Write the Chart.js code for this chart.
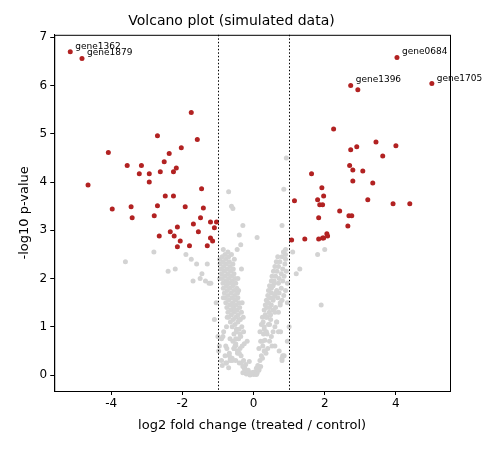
<!DOCTYPE html>
<html><head><script src="https://cdn.jsdelivr.net/npm/chart.js@4"></script>
<style>body{margin:0;background:#fff}#w{width:500px;height:450px}</style></head>
<body><div id="w"><canvas id="c"></canvas></div>
<script>
const sigX=[-5.15,-4.82,-1.75,-2.70,-1.58,-4.08,-2.03,-2.37,-2.51,-3.55,-3.15,-2.62,-3.21,-2.93,-2.25,-2.17,-2.93,-4.65,-1.46,-2.48,-2.25,-3.97,-3.44,-2.70,-1.92,-1.41,-3.41,-2.79,-1.49,-1.21,-1.04,-2.14,-1.69,-1.10,-2.65,-2.34,-2.23,-1.55,-1.21,-1.15,-2.14,-1.80,-1.30,-2.06,
4.03,2.73,2.93,5.01,2.25,3.44,2.73,2.90,4.00,3.63,1.63,2.70,2.79,3.07,2.79,3.35,1.92,1.15,1.80,1.97,1.86,1.94,3.21,3.92,4.39,2.42,1.83,2.68,2.76,2.65,1.07,1.44,1.83,1.94,2.06,2.08,1.97];
const sigY=[6.70,6.56,5.44,4.96,4.88,4.61,4.71,4.59,4.42,4.34,4.34,4.21,4.17,4.17,4.21,4.29,4.00,3.94,3.86,3.71,3.71,3.44,3.49,3.51,3.49,3.46,3.26,3.30,3.26,3.17,3.17,3.07,3.13,3.05,2.88,2.97,2.88,2.97,2.84,2.78,2.66,2.68,2.68,2.78,
6.58,6.00,5.91,6.04,5.10,4.83,4.67,4.73,4.75,4.54,4.17,4.34,4.25,4.23,4.02,3.98,3.88,3.61,3.63,3.71,3.53,3.53,3.63,3.55,3.55,3.40,3.26,3.30,3.30,3.09,2.80,2.82,2.82,2.84,2.93,2.88,2.84];
const nsX=[-3.6,-2.8,-2.4,-2.2,-1.9,-1.6,-1.5,-1.3,-1.1,-0.7,-0.62,-0.58,-0.3,-0.4,0.1,0.92,0.85,0.8,0.9,1.1,1.3,1.2,1.8,2.0,1.9,0.95,1.0,0.8,0.6,-0.9,-1.0,-1.05,-1.2,-1.35,-1.45,-1.7,-1.75,-1.25,-0.95,-0.85,
-0.3,-0.2,-0.1,0.0,0.05,0.1,0.15,0.2,-0.25,-0.15,-0.05,0.02,0.08,0.12,0.18,0.25,-0.35,-0.28,-0.22,-0.12,0.22,0.3,0.35,-0.4,
-0.45,-0.38,-0.32,-0.26,-0.18,0.26,0.32,0.4,0.45,-0.5,-0.42,-0.36,0.15,0.28,0.36,0.5,0.55,-0.55,-0.48,-0.41,-0.33,0.2,0.3,0.42,0.6,
-0.6,-0.52,-0.44,-0.37,-0.29,0.18,0.27,0.38,0.48,0.65,-0.65,-0.57,-0.5,-0.43,-0.34,0.22,0.33,0.44,0.55,0.7,-0.7,-0.62,-0.54,-0.46,-0.39,0.25,0.37,0.5,0.62,0.75,
-0.72,-0.64,-0.56,-0.49,-0.41,0.3,0.42,0.55,0.68,0.8,-0.75,-0.67,-0.59,-0.51,-0.44,0.33,0.46,0.6,0.72,0.85,-0.78,-0.7,-0.61,-0.53,-0.45,0.36,0.5,0.65,0.78,0.9,
-0.8,-0.72,-0.63,-0.55,-0.47,0.4,0.55,0.7,0.82,0.95,-0.82,-0.74,-0.66,-0.58,-0.5,0.42,0.58,0.72,0.86,-0.85,-0.76,-0.68,-0.6,-0.52,0.45,0.62,0.78,0.92,
-0.86,-0.78,-0.7,-0.62,-0.55,0.5,0.66,0.82,-0.88,-0.8,-0.72,-0.64,-0.57,0.52,0.7,0.88,-0.9,-0.82,-0.74,-0.66,-0.58,0.56,0.74,0.9,-0.92,-0.84,-0.76,-0.68,0.6,0.8,
-0.94,-0.86,-0.78,-0.7,0.64,0.84,-0.95,-0.88,-0.8,-0.72,0.68,0.9,-0.96,-0.84,-0.74,0.72,0.95,-0.98,-0.86,-0.76,0.76,-0.9,-0.78,-0.68,0.8,-0.88,-0.75,-0.66,0.82,
-0.85,-0.72,-0.62,-0.8,-0.68,-0.58,0.86,-0.76,-0.65,-0.55,-0.7,-0.6,-0.78,-0.52,-0.66,-0.5,
-0.6,-0.5,-0.4,-0.3,-0.45,-0.35,-0.55,-0.25,0.1,0.15,0.05,-0.2,-0.1,0.0,0.08,-0.15,-0.05,0.12,-0.48,-0.38,-0.42,-0.52,-0.32,-0.58,-0.28,-0.62,-0.44,-0.34,-0.54,-0.46,-0.36,-0.4,-0.5,
0.35,0.45,0.55,0.3,0.5,0.6,0.4,0.65,0.25,0.7,0.45,0.58,0.38,0.52,0.75,0.32,0.48,0.62];
const nsY=[2.35,2.55,2.15,2.2,2.5,2.3,2.0,2.3,1.15,3.8,3.5,3.45,3.1,2.9,2.85,4.5,3.85,3.1,2.5,2.55,2.2,2.1,2.5,2.6,1.45,1.5,1.0,0.35,0.6,0.75,0.8,1.5,1.9,1.95,2.1,1.95,2.4,1.9,2.0,2.6,
0.05,0.02,0.0,0.01,0.03,0.08,0.12,0.18,0.15,0.1,0.05,0.06,0.14,0.2,0.3,0.35,0.25,0.3,0.22,0.28,0.4,0.5,0.45,0.45,
0.5,0.55,0.6,0.65,0.7,0.6,0.72,0.55,0.7,0.65,0.75,0.8,0.55,0.85,0.9,0.8,0.9,0.85,0.9,0.95,1.0,0.7,1.0,1.05,1.0,
1.0,1.05,1.1,1.15,1.2,0.9,1.1,1.2,1.15,1.1,1.1,1.15,1.2,1.25,1.3,1.05,1.25,1.3,1.35,1.3,1.2,1.25,1.3,1.35,1.4,1.2,1.4,1.45,1.4,1.5,
1.3,1.35,1.4,1.45,1.5,1.35,1.5,1.55,1.6,1.55,1.4,1.45,1.5,1.55,1.6,1.45,1.6,1.65,1.7,1.65,1.5,1.55,1.6,1.65,1.7,1.55,1.7,1.75,1.8,1.75,
1.6,1.65,1.7,1.75,1.8,1.65,1.85,1.9,1.95,1.9,1.7,1.75,1.8,1.85,1.9,1.75,1.95,2.0,2.05,1.8,1.85,1.9,1.95,2.0,1.85,2.05,2.1,2.15,
1.9,1.95,2.0,2.05,2.1,1.95,2.15,2.2,2.0,2.05,2.1,2.15,2.2,2.05,2.25,2.3,2.1,2.15,2.2,2.25,2.3,2.15,2.35,2.4,2.2,2.25,2.3,2.35,2.25,2.45,
2.3,2.35,2.4,2.45,2.35,2.55,2.4,2.45,2.5,2.55,2.45,2.6,0.6,0.9,1.2,0.5,0.7,0.5,0.8,1.0,0.9,0.3,0.6,0.4,0.3,0.2,0.55,0.75,0.4,
1.6,1.9,2.5,0.4,0.45,0.7,0.4,0.25,0.35,0.55,0.15,0.3,0.25,0.6,0.3,0.75,
0.35,0.3,0.25,0.18,0.45,0.4,0.55,0.12,0.04,0.1,0.02,0.1,0.03,0.06,0.01,0.07,0.04,0.15,0.95,0.85,1.75,1.35,1.5,1.9,0.9,1.45,2.0,2.2,2.4,2.6,2.7,1.15,0.62,
1.2,1.4,1.6,0.95,1.8,1.3,1.5,1.1,0.7,0.9,1.05,1.9,0.85,0.6,1.45,0.5,1.25,1.7];
const xTicks=[-4,-2,0,2,4];
const labels=[{n:'gene1362',x:-5.15,y:6.70},{n:'gene1879',x:-4.82,y:6.56},{n:'gene0684',x:4.03,y:6.58},{n:'gene1396',x:2.73,y:6.00},{n:'gene1705',x:5.01,y:6.04}];
const ns=nsX.map((x,i)=>({x,y:nsY[i]}));
const sig=sigX.map((x,i)=>({x,y:sigY[i]}));
const deco={id:'deco',afterDatasetsDraw(ch){const c=ch.ctx,a=ch.chartArea,xs=ch.scales.x,ys=ch.scales.y;
c.save();c.strokeStyle='#000';c.lineWidth=1;c.setLineDash([1.5,2]);
[-1,1].forEach(v=>{const p=Math.round(xs.getPixelForValue(v))+0.5;c.beginPath();c.moveTo(p,a.top);c.lineTo(p,a.bottom);c.stroke();});
c.setLineDash([]);c.strokeRect(a.left+0.5,a.top+0.5,a.right-a.left,a.bottom-a.top);
c.fillStyle='#000';c.font='9px "DejaVu Sans"';c.textBaseline='alphabetic';
labels.forEach(l=>{c.fillText(l.n,xs.getPixelForValue(l.x)+5,ys.getPixelForValue(l.y)-3);});
c.restore();}};
const gridOpt={display:true,drawOnChartArea:false,drawTicks:true,tickLength:4,color:'#000'};
new Chart(document.getElementById('c'),{type:'scatter',data:{datasets:[
{data:ns,backgroundColor:'#d3d3d3',borderWidth:0,pointRadius:2.5},
{data:sig,backgroundColor:'#b22222',borderWidth:0,pointRadius:2.5}]},
options:{responsive:true,maintainAspectRatio:false,animation:false,
layout:{padding:{top:0,right:50,left:13,bottom:13}},
plugins:{legend:{display:false},tooltip:{enabled:false},
title:{display:true,text:'Volcano plot (simulated data)',color:'#000',font:{family:'DejaVu Sans',size:14,weight:'normal'},padding:{top:13,bottom:5}}},
scales:{x:{min:-5.6,max:5.52,grid:gridOpt,border:{color:'#000'},
afterBuildTicks(s){s.ticks=xTicks.map(v=>({value:v}));},
ticks:{color:'#000',font:{family:'DejaVu Sans',size:12},autoSkip:false,maxRotation:0,padding:2},
title:{display:true,text:'log2 fold change (treated / control)',color:'#000',font:{family:'DejaVu Sans',size:13}}},
y:{min:-0.33,max:7.05,grid:gridOpt,border:{color:'#000'},
afterBuildTicks(s){s.ticks=[0,1,2,3,4,5,6,7].map(v=>({value:v}));},
ticks:{color:'#000',font:{family:'DejaVu Sans',size:12},padding:3},
title:{display:true,text:'-log10 p-value',color:'#000',font:{family:'DejaVu Sans',size:13}}}}},
plugins:[deco]});
</script></body></html>
